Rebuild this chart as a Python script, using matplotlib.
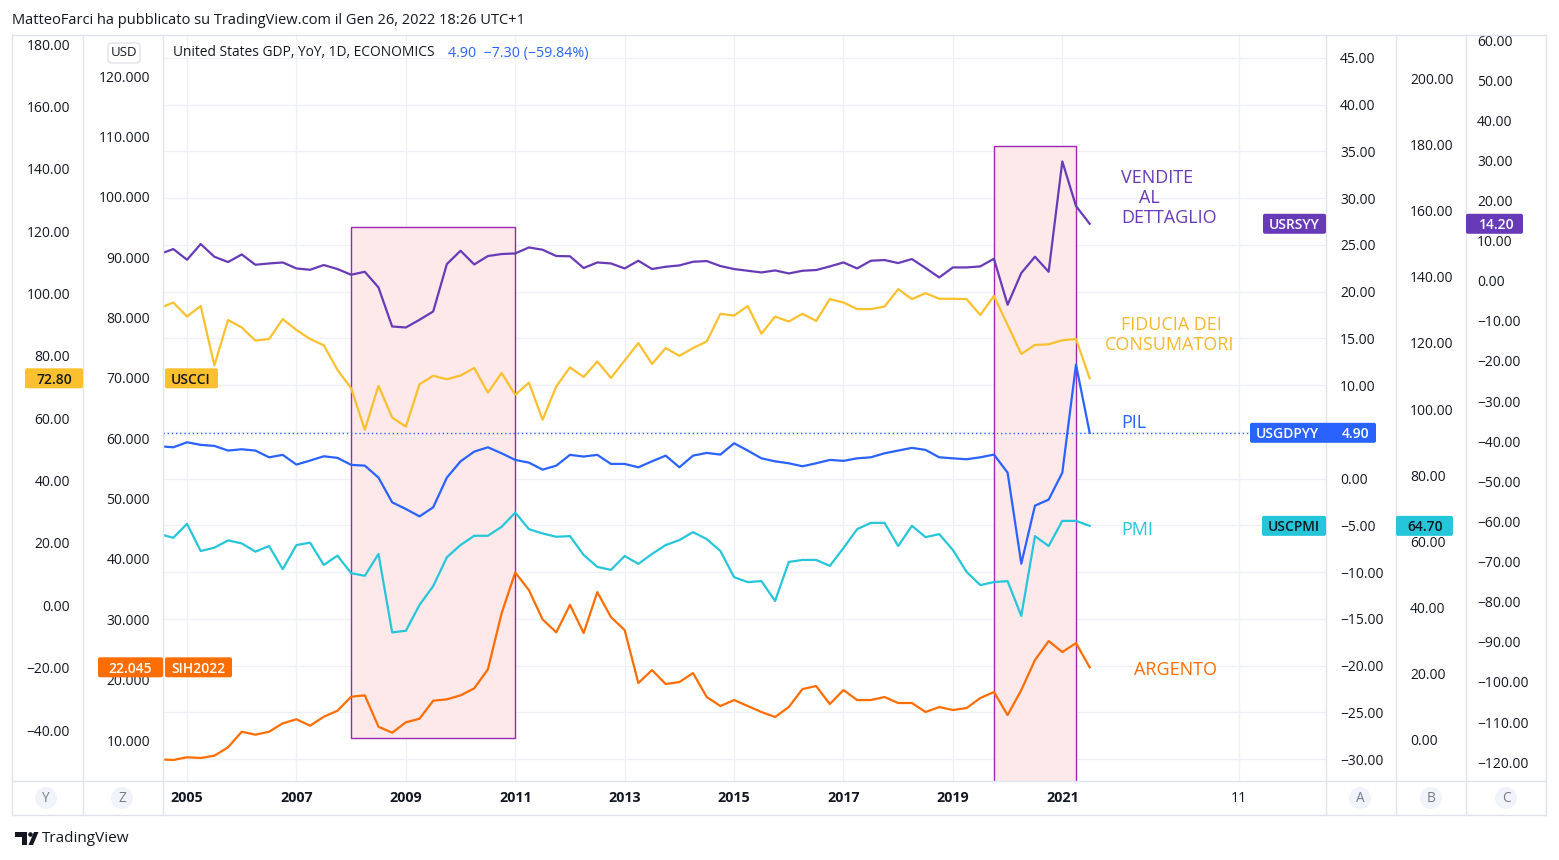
import matplotlib
matplotlib.use('Agg')
import matplotlib.pyplot as plt
from matplotlib.patches import Rectangle, FancyBboxPatch, Circle, Polygon
from matplotlib.lines import Line2D
from matplotlib.transforms import IdentityTransform
import numpy as np

plt.rcParams['font.family'] = ['Open Sans', 'DejaVu Sans']

# ---------------- data ----------------
quarters = np.arange(2004.5, 2021.51, 0.25)   # quarterly observation dates (decimal years)

retail_sales_yoy = [6.66, 7.9, 5.24, 9.15, 5.99, 4.66, 6.56, 3.99, 4.31, 4.56,
                    3.07, 2.74, 3.92, 2.92, 1.50, 2.24, -1.67, -11.4, -11.65, -9.73,
                    -7.66, 4.16, 7.48, 4.06, 6.16, 6.66, 6.81, 8.3, 7.73, 6.16,
                    6.1, 3.17, 4.56, 4.31, 3.07, 4.99, 2.92, 3.49, 3.82, 4.74,
                    4.91, 3.67, 2.92, 2.49, 2.07, 2.57, 1.82, 2.49, 2.67, 3.57,
                    4.56, 3.07, 4.99, 5.16, 4.41, 5.41, 3.17, 0.82, 3.32, 3.32,
                    3.57, 5.49, -5.99, 1.92, 5.99, 2.24, 29.75, 18.63, 14.20]

consumer_confidence = [95.3, 97.1, 92.6, 96.0, 76.9, 91.5, 89.1, 84.9, 85.4, 91.8,
                       88.3, 85.4, 83.4, 75.5, 69.6, 56.3, 70.4, 60.2, 57.3, 70.9,
                       73.6, 72.5, 73.7, 76.1, 68.2, 74.5, 67.5, 71.4, 59.5, 70.2,
                       76.3, 73.2, 78.2, 72.9, 78.5, 84.1, 77.4, 82.5, 80.0, 82.5,
                       84.6, 93.5, 92.9, 96.0, 87.1, 92.6, 91.0, 93.5, 91.2, 98.2,
                       97.1, 95.0, 95.0, 95.8, 101.4, 98.2, 100.1, 98.3, 98.3, 98.2,
                       93.1, 99.2, 89.9, 80.6, 83.5, 83.7, 85.0, 85.4, 72.80]

gdp_yoy = [3.46, 3.35, 3.89, 3.61, 3.50, 3.0, 3.14, 3.0, 2.28, 2.54,
           1.50, 1.93, 2.39, 2.22, 1.47, 1.39, 0.11, -2.54, -3.25, -4.04,
           -3.07, 0.11, 1.85, 2.89, 3.35, 2.71, 2.0, 1.71, 0.96, 1.39,
           2.54, 2.36, 2.54, 1.57, 1.57, 1.21, 1.85, 2.46, 1.21, 2.46,
           2.75, 2.57, 3.78, 3.0, 2.17, 1.85, 1.64, 1.32, 1.64, 2.0,
           1.9, 2.17, 2.28, 2.71, 3.0, 3.29, 3.07, 2.28, 2.17, 2.07,
           2.28, 2.57, 0.64, -9.1, -2.89, -2.25, 0.64, 12.2, 4.90]

pmi = [62.2, 61.1, 65.3, 57.1, 58.1, 60.3, 59.4, 56.9, 58.6, 51.6,
       58.9, 59.6, 52.9, 55.7, 50.4, 49.6, 56.2, 32.5, 33.0, 40.8,
       46.5, 55.2, 58.9, 61.7, 61.7, 64.4, 68.7, 63.7, 62.4, 61.4,
       61.6, 55.9, 52.3, 51.4, 55.6, 53.2, 56.2, 58.9, 60.4, 62.8,
       60.7, 57.1, 49.2, 47.7, 48.0, 42.0, 53.8, 54.4, 54.4, 52.6,
       58.0, 63.7, 65.6, 65.6, 58.6, 64.7, 61.3, 62.2, 57.4, 50.8,
       46.8, 47.7, 48.0, 37.5, 61.6, 58.6, 66.2, 66.2, 64.70]

silver = [6.80, 6.69, 7.14, 7.02, 7.40, 8.79, 11.37, 10.88, 11.37, 12.76,
          13.43, 12.37, 13.86, 14.85, 17.17, 17.40, 12.20, 11.21, 12.93, 13.53,
          16.51, 16.74, 17.40, 18.56, 21.71, 30.98, 37.76, 34.83, 29.98, 27.83,
          32.40, 27.72, 34.50, 30.36, 28.21, 19.44, 21.59, 19.27, 19.60, 21.09,
          17.12, 15.63, 16.62, 15.63, 14.64, 13.81, 15.46, 18.44, 18.94, 15.96,
          18.28, 16.62, 16.62, 17.12, 16.13, 16.13, 14.64, 15.46, 14.97, 15.30,
          16.95, 17.95, 14.14, 18.28, 23.25, 26.39, 24.57, 26.06, 22.045]

year_ticks = [2005, 2007, 2009, 2011, 2013, 2015, 2017, 2019, 2021]
year_labels = ['2005', '2007', '2009', '2011', '2013', '2015', '2017', '2019', '2021']
extra_tick, extra_label = 2024.23, '11'

# shaded periods: (start, end, bottom, top) in GDP-axis units
highlight_boxes = [(2008.0, 2011.0, -27.8, 26.9), (2019.75, 2021.25, -40.0, 35.6)]

# ---------------- styling ----------------
C_RS, C_CCI, C_GDP, C_PMI, C_AG = '#673AB7', '#FBC02D', '#2962FF', '#26C6DA', '#FF6D00'
TXT = '#131722'
GRID = '#eef0f5'
SEP = '#e0e3eb'
FS = 10

W, H = 1559, 860
fig = plt.figure(figsize=(W / 100, H / 100), dpi=100, facecolor='white')
L, R, T, B = 163, 1326, 35, 781
rect = [L / W, 1 - B / H, (R - L) / W, (B - T) / H]
XLIM = (2004.561, 2025.82)

def py(y):
    return H - y

def minus(s):
    return s.replace('-', '\u2212')

# main axis = GDP (scale A)
ax = fig.add_axes(rect)
ax.set_facecolor('none')
ax.set_xlim(*XLIM)
ax.set_ylim(-32.35, 47.46)
for s in ax.spines.values():
    s.set_visible(False)
a_ticks = np.arange(-30, 46, 5)
ax.set_yticks(a_ticks)
ax.set_yticklabels([minus(f'{v:.2f}') for v in a_ticks])
ax.yaxis.tick_right()
ax.tick_params(axis='y', length=0, pad=14 * 0.72, labelsize=FS, labelcolor=TXT)
for lab in ax.get_yticklabels():
    lab.set_ha('left')
ax.set_xticks(year_ticks + [extra_tick])
ax.set_xticklabels(year_labels + [extra_label])
ax.tick_params(axis='x', length=0, pad=10 * 0.72, labelsize=10.3, labelcolor=TXT)
for lab in ax.get_xticklabels()[:-1]:
    lab.set_fontweight('bold')
ax.grid(True, color=GRID, lw=1)
ax.set_axisbelow(True)

for x0, x1, y0, y1 in highlight_boxes:
    ax.add_patch(Rectangle((x0, y0), x1 - x0, y1 - y0, facecolor='#fde8ea',
                           edgecolor='#9c27b0', lw=1, zorder=1))

t_tag = XLIM[0] + (1250 - L) / (R - L) * (XLIM[1] - XLIM[0])
ax.plot([XLIM[0], t_tag], [gdp_yoy[-1]] * 2, ls=(0, (1, 2)), color=C_GDP, lw=1,
        clip_on=False, zorder=2)
ax.plot(quarters, gdp_yoy, color=C_GDP, lw=1.6, zorder=5)


def series_axis(ylim, side, ticks, fmt, pad_px):
    a = fig.add_axes(rect)
    a.set_facecolor('none')
    for s in a.spines.values():
        s.set_visible(False)
    a.set_xlim(*XLIM)
    a.set_ylim(*ylim)
    a.set_xticks([])
    a.set_yticks(ticks)
    a.set_yticklabels([minus(fmt.format(v)) for v in ticks])
    if side == 'right':
        a.yaxis.tick_right()
    else:
        a.yaxis.tick_left()
    a.tick_params(axis='y', length=0, pad=pad_px * 0.72, labelsize=FS, labelcolor=TXT)
    for lab in a.get_yticklabels():
        lab.set_ha('left' if side == 'right' else 'right')
    return a

ax_y = series_axis((-56.35, 182.9), 'left', np.arange(-40, 181, 20), '{:.2f}', 93)
ax_z = series_axis((3.21, 126.8), 'left', np.arange(10, 121, 10), '{:.3f}', 13)
ax_b = series_axis((-12.39, 213.0), 'right', np.arange(0, 201, 20), '{:.2f}', 84)
ax_c = series_axis((-124.7, 61.26), 'right', np.arange(-120, 61, 10), '{:.2f}', 151)

ax_c.plot(quarters, retail_sales_yoy, color=C_RS, lw=1.6)
ax_y.plot(quarters, consumer_confidence, color=C_CCI, lw=1.6)
ax_b.plot(quarters, pmi, color=C_PMI, lw=1.6)
ax_z.plot(quarters, silver, color=C_AG, lw=1.6)

# ---------------- frame lines ----------------
def hline(y, x0, x1, c=SEP):
    fig.add_artist(Line2D([x0, x1], [py(y), py(y)], color=c, lw=1, transform=IdentityTransform()))

def vline(x, y0, y1, c=SEP):
    fig.add_artist(Line2D([x, x], [py(y0), py(y1)], color=c, lw=1, transform=IdentityTransform()))

hline(35, 12, 1546)
hline(781, 12, 1546)
hline(815, 12, 1546)
for xv in (12, 83, 163, 1326, 1396, 1466, 1546):
    vline(xv, 35, 815)

# axis buttons
for lbl, xc in (('Y', 46), ('Z', 122), ('A', 1360), ('B', 1431), ('C', 1506)):
    fig.add_artist(Circle((xc, py(798)), 11, facecolor='#f0f3fa', edgecolor='none',
                          transform=IdentityTransform()))
    fig.text(xc, py(798), lbl, transform=IdentityTransform(), ha='center', va='center',
             fontsize=9.8, color='#787b86')

# ---------------- tags ----------------
def tag(a, value, x0, x1, fc):
    _, yd = a.transData.transform((2010, value))
    fig.add_artist(FancyBboxPatch((x0, yd - 10), x1 - x0, 20,
                                  boxstyle='round,pad=0,rounding_size=2',
                                  facecolor=fc, edgecolor='none', zorder=20,
                                  transform=IdentityTransform()))
    return yd

def tag_text(x, yd, s, color, ha='center'):
    fig.text(x, yd, s, transform=IdentityTransform(), ha=ha, va='center_baseline',
             fontsize=10, color=color, zorder=21, fontweight='semibold')

yd = tag(ax_y, consumer_confidence[-1], 25, 83, C_CCI)
tag_text(54, yd, f'{consumer_confidence[-1]:.2f}', TXT)
tag(ax_y, consumer_confidence[-1], 165, 218, C_CCI)
tag_text(191, yd, 'USCCI', TXT)

yd = tag(ax_z, silver[-1], 98, 163, C_AG)
tag_text(130, yd, f'{silver[-1]:.3f}', 'white')
tag(ax_z, silver[-1], 165, 232, C_AG)
tag_text(198, yd, 'SIH2022', 'white')

yd = tag(ax_c, retail_sales_yoy[-1], 1263, 1326, C_RS)
tag_text(1294, yd, 'USRSYY', 'white')
tag(ax_c, retail_sales_yoy[-1], 1466, 1523, C_RS)
tag_text(1497, yd, f'{retail_sales_yoy[-1]:.2f}', 'white')

yd = tag(ax, gdp_yoy[-1], 1250, 1376, C_GDP)
tag_text(1256, yd, 'USGDPYY', 'white', ha='left')
tag_text(1369, yd, f'{gdp_yoy[-1]:.2f}', 'white', ha='right')

yd = tag(ax_b, pmi[-1], 1262, 1326, C_PMI)
tag_text(1294, yd, 'USCPMI', TXT)
tag(ax_b, pmi[-1], 1396, 1453, C_PMI)
tag_text(1425, yd, f'{pmi[-1]:.2f}', TXT)

# ---------------- annotations ----------------
def ann(x, y, s, color, ha='left'):
    fig.text(x, py(y), s, transform=IdentityTransform(), ha=ha, va='center',
             fontsize=13, color=color)

ann(1121, 178, 'VENDITE', C_RS)
ann(1139, 198, 'AL', C_RS)
ann(1121, 218, 'DETTAGLIO', C_RS)
ann(1171, 325, 'FIDUCIA DEI', '#F9B82B', ha='center')
ann(1170, 345, 'CONSUMATORI', '#F9B82B', ha='center')
ann(1121, 423, 'PIL', C_GDP)
ann(1121, 530, 'PMI', C_PMI)
ann(1134, 670, 'ARGENTO', C_AG)

# ---------------- header / legend ----------------
fig.text(12, py(20), 'MatteoFarci ha pubblicato su TradingView.com il Gen 26, 2022 18:26 UTC+1',
         transform=IdentityTransform(), ha='left', va='center', fontsize=10.5, color=TXT)
fig.text(173, py(53), 'United States GDP, YoY, 1D, ECONOMICS', transform=IdentityTransform(),
         ha='left', va='center', fontsize=9.9, color=TXT)
fig.text(448, py(53), '4.90  \u22127.30 (\u221259.84%)', transform=IdentityTransform(),
         ha='left', va='center', fontsize=10.3, color=C_GDP)
fig.add_artist(FancyBboxPatch((108, py(63)), 32, 20, boxstyle='round,pad=0,rounding_size=4',
                              facecolor='white', edgecolor=SEP, lw=1,
                              transform=IdentityTransform(), zorder=20))
fig.text(124, py(53), 'USD', transform=IdentityTransform(), ha='center', va='center',
         fontsize=9.5, color=TXT, zorder=21)

# TradingView logo
fig.add_artist(Polygon([(15, py(832)), (27, py(832)), (27, py(845)), (21.5, py(845)),
                        (21.5, py(837)), (15, py(837))], closed=True, facecolor=TXT,
                       edgecolor='none', transform=IdentityTransform()))
fig.add_artist(Circle((30.5, py(834.5)), 2.3, facecolor=TXT, edgecolor='none',
                      transform=IdentityTransform()))
fig.add_artist(Polygon([(34, py(832)), (38.5, py(832)), (33, py(845)), (28.5, py(845))],
                       closed=True, facecolor=TXT, edgecolor='none',
                       transform=IdentityTransform()))
fig.text(42, py(838), 'TradingView', transform=IdentityTransform(), ha='left', va='center',
         fontsize=11, color=TXT)

fig.savefig('out.png', dpi=100, facecolor='white')
